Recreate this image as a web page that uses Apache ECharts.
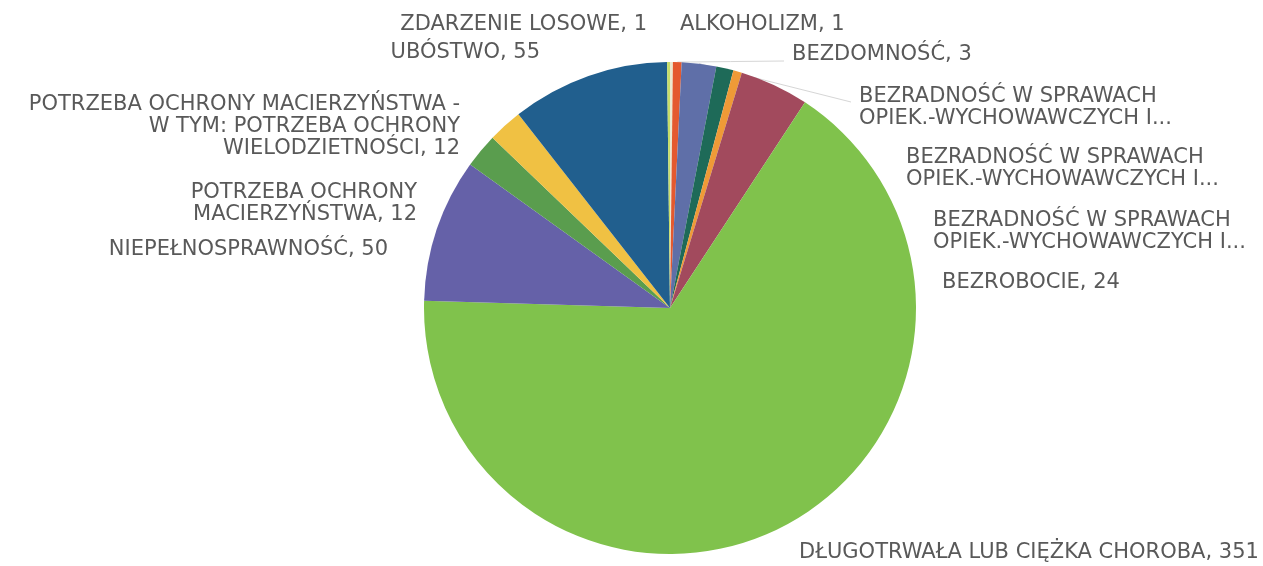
<!DOCTYPE html>
<html>
<head>
<meta charset="utf-8">
<script src="https://cdn.jsdelivr.net/npm/echarts@6/dist/echarts.min.js"></script>
<style>
  html, body { margin: 0; padding: 0; background: #fff; }
  #chart { width: 1263px; height: 566px; }
</style>
</head>
<body>
<div id="chart"></div>
<script>
// Slices in Excel order: clockwise from 12 o'clock.
const categories = [
  "ALKOHOLIZM",
  "BEZDOMNOŚĆ",
  "BEZRADNOŚĆ W SPRAWACH OPIEK.-WYCHOWAWCZYCH I... (1)",
  "BEZRADNOŚĆ W SPRAWACH OPIEK.-WYCHOWAWCZYCH I... (2)",
  "BEZRADNOŚĆ W SPRAWACH OPIEK.-WYCHOWAWCZYCH I... (3)",
  "BEZROBOCIE",
  "DŁUGOTRWAŁA LUB CIĘŻKA CHOROBA",
  "NIEPEŁNOSPRAWNOŚĆ",
  "POTRZEBA OCHRONY MACIERZYŃSTWA",
  "POTRZEBA OCHRONY MACIERZYŃSTWA - W TYM: POTRZEBA OCHRONY WIELODZIETNOŚCI",
  "UBÓSTWO",
  "ZDARZENIE LOSOWE",
]
const values = [1, 3, 12, 6, 3, 24, 351, 50, 12, 12, 55, 1]

// Label text as printed on the chart (line breaks as in the picture).
const labelTexts = [
  "ALKOHOLIZM, 1",
  "BEZDOMNOŚĆ, 3",
  "BEZRADNOŚĆ W SPRAWACH\nOPIEK.-WYCHOWAWCZYCH I...",
  "BEZRADNOŚĆ W SPRAWACH\nOPIEK.-WYCHOWAWCZYCH I...",
  "BEZRADNOŚĆ W SPRAWACH\nOPIEK.-WYCHOWAWCZYCH I...",
  "BEZROBOCIE, 24",
  "DŁUGOTRWAŁA LUB CIĘŻKA CHOROBA, 351",
  "NIEPEŁNOSPRAWNOŚĆ, 50",
  "POTRZEBA OCHRONY\nMACIERZYŃSTWA, 12",
  "POTRZEBA OCHRONY MACIERZYŃSTWA -\nW TYM: POTRZEBA OCHRONY\nWIELODZIETNOŚCI, 12",
  "UBÓSTWO, 55",
  "ZDARZENIE LOSOWE, 1",
]

const colors = [
  "#ece8cf", "#e4592f", "#5f6fa8", "#1e6a58", "#ef9a37", "#a24a5d",
  "#80c24c", "#6561a8", "#5a9d4e", "#f0c143", "#215f8e", "#c6dd6a",
]

// Where Excel put each data label: [text edge x, block middle y, side].
const labelAnchors = [
  [680, 25, "left"], [792, 55, "left"], [859, 108, "left"], [906, 169, "left"],
  [933, 232, "left"], [942, 283, "left"], [799, 553, "left"], [388, 250, "right"],
  [417, 204, "right"], [460, 127, "right"], [540, 53, "right"], [647, 25, "right"],
]

// Only these two labels carry a (faint) leader line in the original.
const withLine = new Set([1, 2])

const CX = 670
const CY = 308
const R = 246

const total = values.reduce((a, b) => a + b, 0)
// Point on the outer arc in the middle of slice i (clockwise from 12 o'clock).
const sliceEdge = (i) => {
  const before = values.slice(0, i).reduce((a, b) => a + b, 0)
  const theta = ((before + values[i] / 2) / total) * 2 * Math.PI
  return [CX + R * Math.sin(theta), CY - R * Math.cos(theta)]
}

const chart = echarts.init(document.getElementById("chart"))

chart.setOption({
  animation: false,
  backgroundColor: "#fff",
  series: [
    {
      type: "pie",
      center: [CX, CY],
      radius: R,
      startAngle: 90,
      clockwise: true,
      avoidLabelOverlap: false,
      minShowLabelAngle: 0,
      itemStyle: {borderWidth: 0},
      label: {
        show: true,
        position: "outside",
        color: "#595959",
        fontFamily: "DejaVu Sans",
        fontSize: 21,
        lineHeight: 22,
        formatter: (p) => labelTexts[p.dataIndex],
      },
      labelLine: {show: false},
      labelLayout: (params) => {
        const i = params.dataIndex
        const [x, y, side] = labelAnchors[i]
        const out = {x, y, align: side, verticalAlign: "middle"}
        if (withLine.has(i)) {
          const [sx, sy] = sliceEdge(i)
          const ex = x - 8
          const ey = y + (i === 1 ? 6 : -6)
          out.labelLinePoints = [[sx, sy], [(sx + ex) / 2, (sy + ey) / 2], [ex, ey]]
        }
        return out
      },
      data: categories.map((name, i) => ({
        name,
        value: values[i],
        itemStyle: {color: colors[i]},
        labelLine: withLine.has(i)
          ? {show: true, smooth: false, lineStyle: {color: "#d6d6d6", width: 1}}
          : {show: false},
      })),
    },
  ],
})
</script>
</body>
</html>
